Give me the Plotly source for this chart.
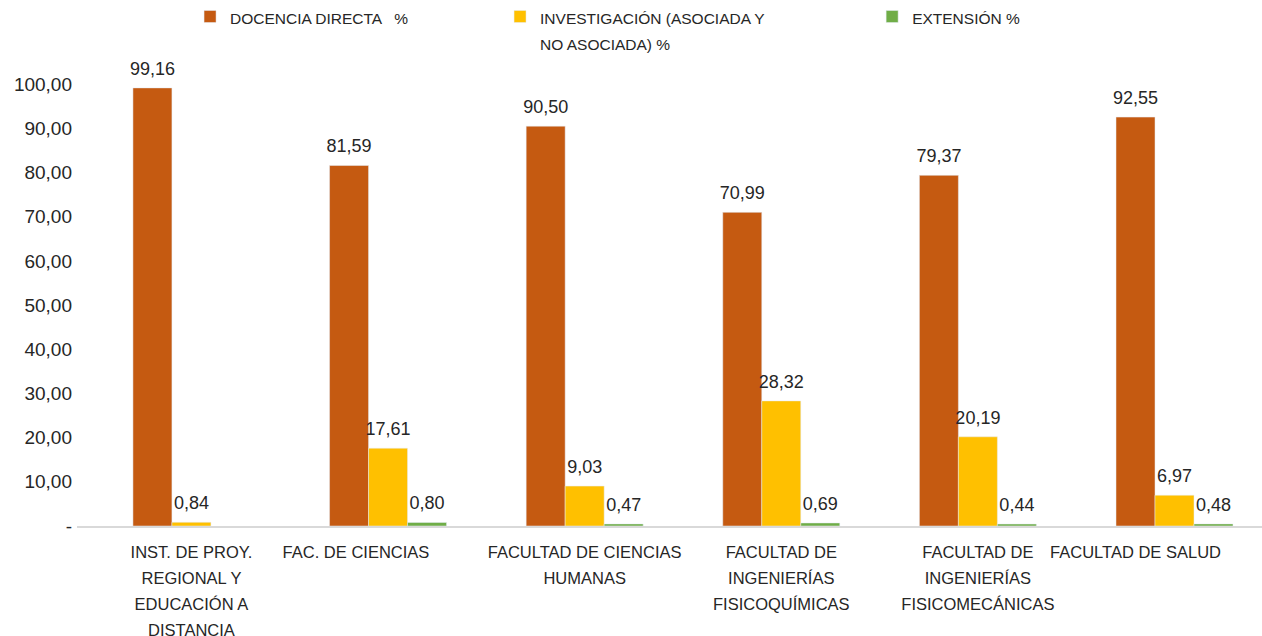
import plotly.graph_objects as go

NB = "\u00a0"
categories = [
    "INST. DE PROY.<br>REGIONAL Y<br>EDUCACIÓN A<br>DISTANCIA",
    "FAC. DE CIENCIAS" + NB * 14,
    "FACULTAD DE CIENCIAS<br>HUMANAS",
    "FACULTAD DE<br>INGENIERÍAS<br>FISICOQUÍMICAS",
    "FACULTAD DE<br>INGENIERÍAS<br>FISICOMECÁNICAS",
    "FACULTAD DE SALUD" + NB * 17,
]
docencia = [99.16, 81.59, 90.50, 70.99, 79.37, 92.55]
investigacion = [0.84, 17.61, 9.03, 28.32, 20.19, 6.97]
extension = [None, 0.80, 0.47, 0.69, 0.44, 0.48]

series_names = ["DOCENCIA DIRECTA   %", "INVESTIGACIÓN (ASOCIADA Y<br>NO ASOCIADA) %", "EXTENSIÓN %"]
colors = ["#C55A11", "#FFC000", "#70AD47"]
ytick_vals = [0, 10, 20, 30, 40, 50, 60, 70, 80, 90, 100]
ytick_text = ["-", "10,00", "20,00", "30,00", "40,00", "50,00", "60,00", "70,00", "80,00", "90,00", "100,00"]

FONT = "Liberation Sans, Arial, sans-serif"
TXT = "#262626"


def sized(text, px):
    return "<br>".join(f'<span style="font-size:{px}px">{ln}</span>' for ln in text.split("<br>"))


x = list(range(len(categories)))
legend_ids = ["legend", "legend2", "legend3"]
fig = go.Figure()
for i, (name, vals, col) in enumerate(zip(series_names, [docencia, investigacion, extension], colors)):
    fig.add_trace(go.Bar(
        x=x, y=vals, name=sized(name, 15.5), marker_color=col,
        texttemplate='<span style="font-size:18px">%{y:.2f}</span><br>' + NB,
        textposition="outside", cliponaxis=False,
        constraintext="none",
        textfont=dict(family=FONT, size=7, color=TXT),
        legend=legend_ids[i], showlegend=True,
    ))

leg_common = dict(orientation="h", yref="paper", y=1.0885, yanchor="top", xanchor="left",
                  font=dict(family=FONT, size=20, color=TXT), valign="top",
                  bgcolor="rgba(0,0,0,0)", itemwidth=30)
fig.update_layout(
    width=1262, height=636,
    margin=dict(l=77, r=0, t=40, b=110, autoexpand=False),
    paper_bgcolor="white", plot_bgcolor="white",
    separators=",.",
    showlegend=True,
    barmode="group", bargap=0.405, bargroupgap=0,
    font=dict(family=FONT, size=17, color=TXT),
    legend=dict(x=0.0954, **leg_common),
    legend2=dict(x=0.357, **leg_common),
    legend3=dict(x=0.671, **leg_common),
    xaxis=dict(
        tickvals=x, ticktext=[sized(c, 16.5) for c in categories], range=[-0.582, 5.445],
        showline=True, linecolor="#D9D9D9", linewidth=1.5,
        showgrid=False, zeroline=False, ticks="", tickangle=0, automargin=False,
        ticklabeloverflow="allow", ticklabelstandoff=6,
        tickfont=dict(family=FONT, size=20, color=TXT),
    ),
    yaxis=dict(
        range=[0, 110], tickvals=ytick_vals, ticktext=ytick_text,
        showgrid=False, zeroline=False, showline=False, ticks="", automargin=False,
        ticklabelstandoff=4,
        tickfont=dict(family=FONT, size=19, color=TXT),
    ),
)
fig.write_html("out.html", config={"displayModeBar": False},
               post_script="document.body.style.margin='0';")
